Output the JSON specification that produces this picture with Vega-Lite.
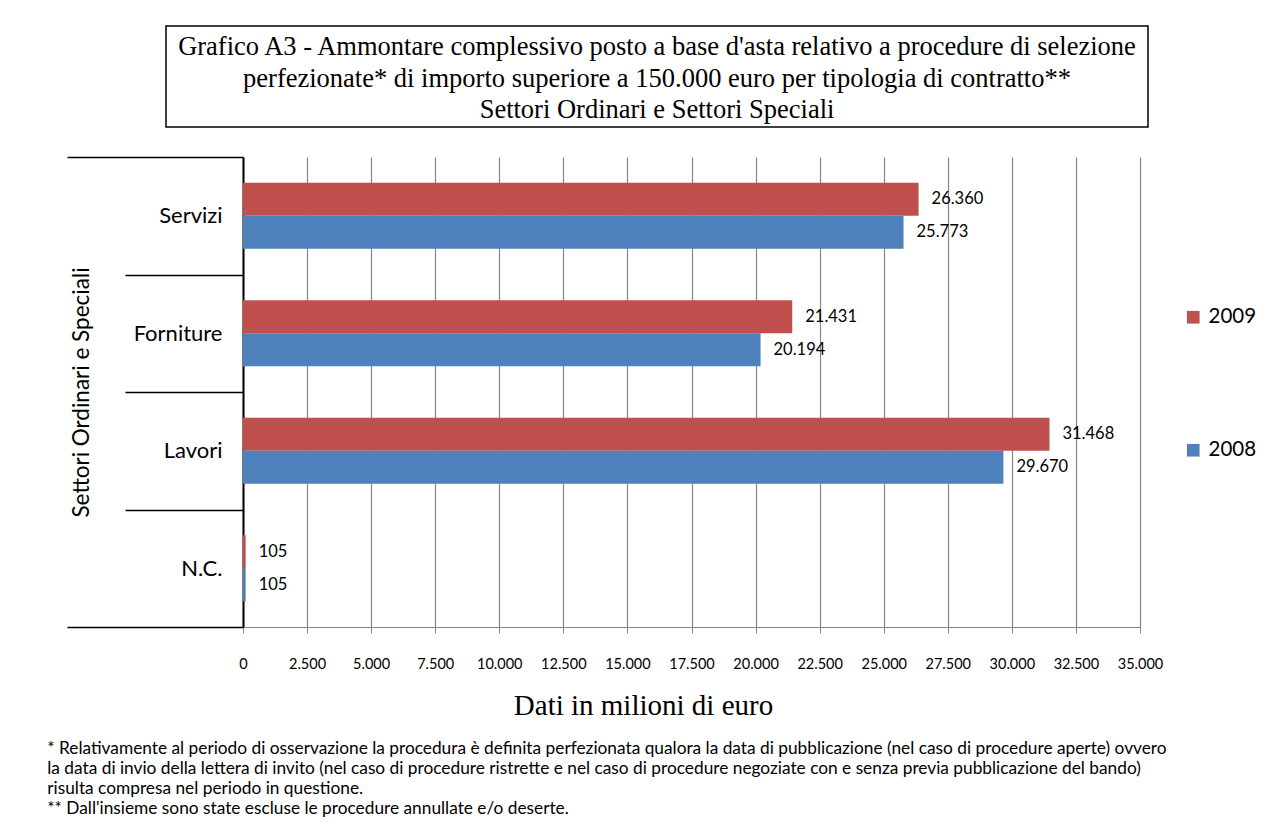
{
  "$schema": "https://vega.github.io/schema/vega-lite/v6.json",
  "padding": {"left": 47, "top": 25, "right": 10, "bottom": 10},
  "background": "white",
  "config": {
    "locale": {"number": {"decimal": ",", "thousands": ".", "grouping": [3], "currency": ["€", ""]}},
    "font": "Lato"
  },
  "title": {
    "text": [
      "* Relativamente al periodo di osservazione la procedura è definita perfezionata qualora la data di pubblicazione (nel caso di procedure aperte) ovvero",
      "la data di invio della lettera di invito (nel caso di procedure ristrette e nel caso di procedure negoziate con e senza previa pubblicazione del bando)",
      "risulta compresa nel periodo in questione.",
      "** Dall'insieme sono state escluse le procedure annullate e/o deserte."
    ],
    "orient": "bottom",
    "anchor": "start",
    "font": "Lato",
    "fontSize": 17.3,
    "fontWeight": "normal",
    "lineHeight": 20,
    "offset": 19,
    "dx": -19,
    "color": "black"
  },
  "spacing": 18,
  "resolve": {"legend": {"color": "independent"}},
  "vconcat": [
    {
      "width": 982,
      "height": 101,
      "view": {"stroke": "black", "strokeWidth": 1.5},
      "data": {"values": [
        {"riga": 1, "t": "Grafico A3 - Ammontare complessivo posto a base d'asta relativo a procedure di selezione"},
        {"riga": 2, "t": "perfezionate* di importo superiore a 150.000 euro per tipologia di contratto**"},
        {"riga": 3, "t": "Settori Ordinari e Settori Speciali"}
      ]},
      "mark": {"type": "text", "font": "Liberation Serif", "fontSize": 26.5, "align": "center", "baseline": "middle", "dy": 2, "color": "black"},
      "encoding": {
        "y": {
          "field": "riga", "type": "ordinal",
          "scale": {"padding": 0.629},
          "axis": null
        },
        "text": {"field": "t", "type": "nominal"}
      }
    },
    {
      "width": 974,
      "height": 470,
      "view": {"stroke": null},
      "data": {"values": [
        {"settore": "Servizi", "anno": "2009", "valore": 26360},
        {"settore": "Servizi", "anno": "2008", "valore": 25773},
        {"settore": "Forniture", "anno": "2009", "valore": 21431},
        {"settore": "Forniture", "anno": "2008", "valore": 20194},
        {"settore": "Lavori", "anno": "2009", "valore": 31468},
        {"settore": "Lavori", "anno": "2008", "valore": 29670},
        {"settore": "N.C.", "anno": "2009", "valore": 105},
        {"settore": "N.C.", "anno": "2008", "valore": 105}
      ]},
      "encoding": {
        "y": {
          "field": "settore", "type": "nominal",
          "sort": ["Servizi", "Forniture", "Lavori", "N.C."],
          "scale": {"paddingInner": 0, "paddingOuter": 0},
          "axis": {
            "title": "Settori Ordinari e Speciali",
            "offset": -77,
            "tickBand": "extent",
            "tickSize": {"condition": {"test": "datum.value === 'N.C.' || datum.extra", "value": 176}, "value": 118},
            "tickColor": "black", "tickWidth": 1.5,
            "domainColor": "black", "domainWidth": 2,
            "labelPadding": {"condition": {"test": "datum.value === 'N.C.'", "value": -155}, "value": -97},
            "labelFont": "Lato", "labelFontSize": 22, "labelColor": "black",
            "titleFont": "Lato", "titleFontSize": 22.5, "titleFontWeight": "normal", "titleColor": "black",
            "titlePadding": -27, "grid": false
          }
        },
        "yOffset": {"field": "anno", "type": "nominal", "sort": ["2009", "2008"], "scale": {"paddingOuter": 0.78, "paddingInner": 0}},
        "x": {
          "field": "valore", "type": "quantitative",
          "scale": {"domain": [0, 35000], "nice": false, "range": [77, 974]},
          "axis": {
            "values": [0, 2500, 5000, 7500, 10000, 12500, 15000, 17500, 20000, 22500, 25000, 27500, 30000, 32500, 35000],
            "format": ",d", "labelOverlap": false, "labelFlush": false,
            "labelFont": "Lato", "labelFontSize": 14.5, "labelColor": "black", "labelPadding": 24,
            "tickColor": "#868686", "tickSize": 6, "domainColor": "#868686",
            "grid": true, "gridColor": "#868686", "gridWidth": 1.2,
            "title": "Dati in milioni di euro", "titleFont": "Liberation Serif", "titleFontSize": 29,
            "titleFontWeight": "normal", "titleColor": "black", "titlePadding": 21, "titleX": 477
          }
        }
      },
      "layer": [
        {
          "mark": {"type": "bar"},
          "encoding": {
            "color": {
              "field": "anno", "type": "nominal",
              "scale": {"domain": ["2009", "2008"], "range": ["#C0504D", "#4F81BD"]},
              "legend": {
                "orient": "none", "legendX": 1017, "legendY": 150, "title": null,
                "symbolType": "square", "symbolSize": 160, "symbolStrokeWidth": 0,
                "labelFont": "Lato", "labelFontSize": 20.5, "labelColor": "black",
                "labelOffset": 5, "rowPadding": 112
              }
            }
          }
        },
        {
          "mark": {"type": "text", "align": "left", "dx": 13, "font": "Lato", "fontSize": 16.5, "color": "black"},
          "encoding": {"text": {"field": "valore", "type": "quantitative", "format": ",d"}}
        }
      ]
    }
  ]
}
